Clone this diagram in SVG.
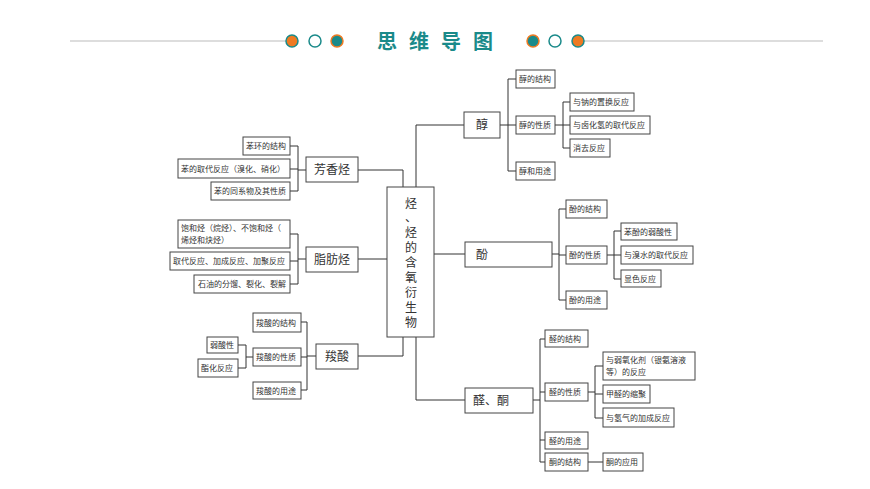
<svg xmlns="http://www.w3.org/2000/svg" width="870" height="489" viewBox="0 0 870 489">
<style>
.b{fill:#fff;stroke:#444;stroke-width:1}
.t{font-family:"Noto Sans CJK SC",sans-serif;font-size:8px;fill:#333}
.m{font-family:"Noto Sans CJK SC",sans-serif;font-size:12px;fill:#333;text-anchor:middle}
.c{fill:none;stroke:#333;stroke-width:1}
</style>
<rect width="870" height="489" fill="#fff"/>
<g id="title">
<line x1="70" y1="41" x2="286" y2="41" stroke="#bbb"/>
<line x1="584" y1="41" x2="823" y2="41" stroke="#bbb"/>
<circle cx="292" cy="41" r="6" fill="#ee7a22" stroke="#1a8a8a" stroke-width="1.5"/>
<circle cx="315" cy="41" r="6" fill="#fff" stroke="#1a8a8a" stroke-width="1.5"/>
<circle cx="337" cy="41" r="6" fill="#1a8a8a" stroke="#ee7a22" stroke-width="1.5"/>
<circle cx="533" cy="41" r="6" fill="#1a8a8a" stroke="#ee7a22" stroke-width="1.5"/>
<circle cx="555" cy="41" r="6" fill="#fff" stroke="#1a8a8a" stroke-width="1.5"/>
<circle cx="578" cy="41" r="6" fill="#ee7a22" stroke="#1a8a8a" stroke-width="1.5"/>
<text x="441" y="49" text-anchor="middle" font-family="Noto Sans CJK SC,sans-serif" font-size="20" font-weight="bold" fill="#1a8a8a" letter-spacing="12">思维导图</text>
</g>
<g id="connectors" class="c">
<path d="M358 170H403V187M358 259H387M358 356H403V337M416 187V125H464M434 254H465M416 337V400H465"/>
<path d="M500 125H508M508 79V171M508 79H516M508 125H516M508 171H516"/>
<path d="M555 125H563M563 102V148M563 102H570M563 125H570M563 148H570"/>
<path d="M552 254H559M559 209V300M559 209H566M559 255H566M559 300H566"/>
<path d="M607 255H614M614 231V279M614 231H621M614 255H621M614 279H621"/>
<path d="M533 400H540M540 339V462M540 339H545M540 392H545M540 440H545M540 462H545"/>
<path d="M588 392H595M595 366V418M595 366H603M595 394H603M595 418H603M588 462H603"/>
<path d="M306 170H298M298 146V191M298 146H290M298 169H290M298 191H290"/>
<path d="M306 259H298M298 234V284M298 234H290M298 261H290M298 284H290"/>
<path d="M316 356H307M307 322V390M307 322H301M307 357H301M307 390H301"/>
<path d="M253 357H246M246 345V368M246 345H238M246 368H238"/>
</g>
<g id="center"><rect class="b" x="387" y="187" width="47" height="150"/>
<g class="m"><text x="411" y="208">烃</text><text x="411" y="222">、</text><text x="411" y="237">烃</text><text x="411" y="252">的</text><text x="411" y="267">含</text><text x="411" y="282">氧</text><text x="411" y="297">衍</text><text x="411" y="312">生</text><text x="411" y="327">物</text></g></g>
<g id="chun"><rect class="b" x="464" y="112" width="36" height="26"/><text class="m" x="482" y="129">醇</text></g>
<g id="chun1"><rect class="b" x="516" y="70" width="39" height="18"/><text class="t" x="519" y="82">醇的结构</text></g>
<g id="chun2"><rect class="b" x="516" y="116" width="39" height="18"/><text class="t" x="519" y="128">醇的性质</text></g>
<g id="chun3"><rect class="b" x="516" y="162" width="39" height="18"/><text class="t" x="519" y="174">醇和用途</text></g>
<g id="chun21"><rect class="b" x="570" y="93" width="64" height="18"/><text class="t" x="573" y="105">与钠的置换反应</text></g>
<g id="chun22"><rect class="b" x="570" y="116" width="80" height="18"/><text class="t" x="573" y="128">与卤化氢的取代反应</text></g>
<g id="chun23"><rect class="b" x="570" y="139" width="40" height="18"/><text class="t" x="573" y="151">消去反应</text></g>
<g id="fen"><rect class="b" x="465" y="242" width="87" height="25"/><text class="m" x="482" y="259">酚</text></g>
<g id="fen1"><rect class="b" x="566" y="200" width="41" height="18"/><text class="t" x="569" y="212">酚的结构</text></g>
<g id="fen2"><rect class="b" x="566" y="246" width="41" height="18"/><text class="t" x="569" y="258">酚的性质</text></g>
<g id="fen3"><rect class="b" x="566" y="291" width="41" height="18"/><text class="t" x="569" y="303">酚的用途</text></g>
<g id="fen21"><rect class="b" x="621" y="223" width="56" height="17"/><text class="t" x="624" y="235">苯酚的弱酸性</text></g>
<g id="fen22"><rect class="b" x="621" y="246" width="72" height="18"/><text class="t" x="624" y="258">与溴水的取代反应</text></g>
<g id="fen23"><rect class="b" x="621" y="270" width="40" height="17"/><text class="t" x="624" y="282">显色反应</text></g>
<g id="quan"><rect class="b" x="465" y="388" width="68" height="25"/><text class="m" x="491" y="405">醛、酮</text></g>
<g id="quan1"><rect class="b" x="545" y="330" width="43" height="17"/><text class="t" x="549" y="342">醛的结构</text></g>
<g id="quan2"><rect class="b" x="545" y="383" width="43" height="18"/><text class="t" x="549" y="395">醛的性质</text></g>
<g id="quan3"><rect class="b" x="545" y="432" width="43" height="17"/><text class="t" x="549" y="444">醛的用途</text></g>
<g id="tong1"><rect class="b" x="545" y="453" width="43" height="18"/><text class="t" x="549" y="465">酮的结构</text></g>
<g id="tong2"><rect class="b" x="603" y="453" width="40" height="18"/><text class="t" x="606" y="465">酮的应用</text></g>
<g id="quan21"><rect class="b" x="603" y="352" width="92" height="28"/><text class="t" x="606" y="363">与弱氧化剂（银氨溶液</text><text class="t" x="606" y="375">等）的反应</text></g>
<g id="quan22"><rect class="b" x="603" y="385" width="47" height="18"/><text class="t" x="606" y="397">甲醛的缩聚</text></g>
<g id="quan23"><rect class="b" x="603" y="408" width="71" height="19"/><text class="t" x="606" y="421">与氢气的加成反应</text></g>
<g id="fx"><rect class="b" x="306" y="157" width="52" height="25"/><text class="m" x="332" y="174">芳香烃</text></g>
<g id="fx1"><rect class="b" x="243" y="137" width="47" height="18"/><text class="t" x="246" y="149">苯环的结构</text></g>
<g id="fx2"><rect class="b" x="178" y="159" width="112" height="19"/><text class="t" x="181" y="172">苯的取代反应（溴化、硝化）</text></g>
<g id="fx3"><rect class="b" x="211" y="182" width="79" height="18"/><text class="t" x="214" y="194">苯的同系物及其性质</text></g>
<g id="zf"><rect class="b" x="306" y="247" width="52" height="25"/><text class="m" x="332" y="264">脂肪烃</text></g>
<g id="zf1"><rect class="b" x="178" y="220" width="112" height="28"/><text class="t" x="181" y="231">饱和烃（烷烃）、不饱和烃（</text><text class="t" x="181" y="243">烯烃和炔烃）</text></g>
<g id="zf2"><rect class="b" x="170" y="252" width="120" height="18"/><text class="t" x="173" y="264">取代反应、加成反应、加聚反应</text></g>
<g id="zf3"><rect class="b" x="194" y="275" width="96" height="18"/><text class="t" x="198" y="287">石油的分馏、裂化、裂解</text></g>
<g id="sx"><rect class="b" x="316" y="344" width="42" height="25"/><text class="m" x="337" y="361">羧酸</text></g>
<g id="sx1"><rect class="b" x="253" y="313" width="48" height="19"/><text class="t" x="256" y="326">羧酸的结构</text></g>
<g id="sx2"><rect class="b" x="253" y="348" width="48" height="18"/><text class="t" x="256" y="360">羧酸的性质</text></g>
<g id="sx3"><rect class="b" x="253" y="382" width="48" height="17"/><text class="t" x="256" y="394">羧酸的用途</text></g>
<g id="sx21"><rect class="b" x="207" y="337" width="31" height="16"/><text class="t" x="210" y="348">弱酸性</text></g>
<g id="sx22"><rect class="b" x="198" y="359" width="40" height="18"/><text class="t" x="201" y="371">酯化反应</text></g>
</svg>
